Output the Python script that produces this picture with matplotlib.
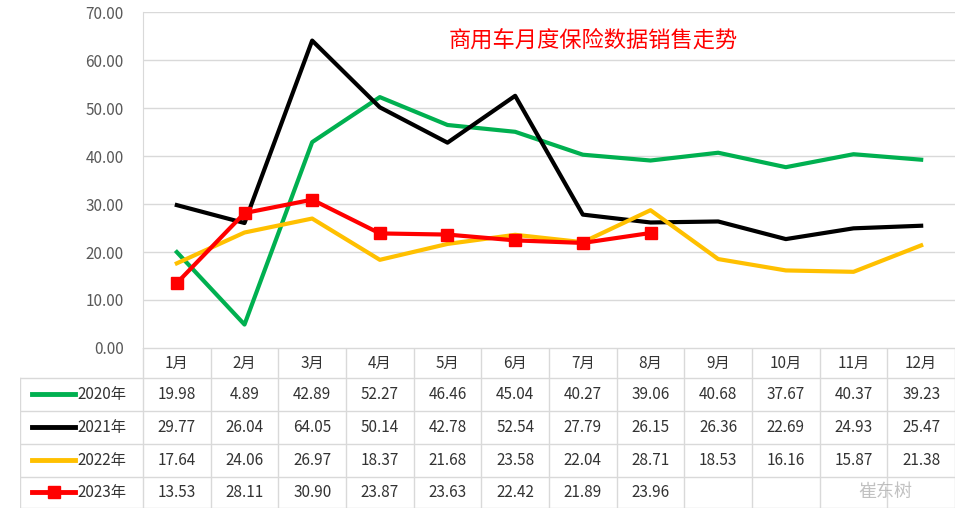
import matplotlib
matplotlib.use("Agg")
import matplotlib.pyplot as plt
from matplotlib.lines import Line2D

plt.rcParams['font.family'] = ['Noto Sans CJK SC', 'DejaVu Sans']

months = ['1月','2月','3月','4月','5月','6月','7月','8月','9月','10月','11月','12月']
y2020 = [19.98,4.89,42.89,52.27,46.46,45.04,40.27,39.06,40.68,37.67,40.37,39.23]
y2021 = [29.77,26.04,64.05,50.14,42.78,52.54,27.79,26.15,26.36,22.69,24.93,25.47]
y2022 = [17.64,24.06,26.97,18.37,21.68,23.58,22.04,28.71,18.53,16.16,15.87,21.38]
y2023 = [13.53,28.11,30.90,23.87,23.63,22.42,21.89,23.96]
labels = ['2020年','2021年','2022年','2023年']
series = [y2020,y2021,y2022,y2023]
colors = ['#00B050','#000000','#FFC000','#FF0000']

W,H = 968,511
fig = plt.figure(figsize=(W/100,H/100), dpi=100)
L,R,T,B = 143,955,12,348
ax = fig.add_axes([L/W, 1-B/H, (R-L)/W, (B-T)/H])
for s,c,lab in zip(series,colors,labels):
    x = [i+0.5 for i in range(len(s))]
    if lab=='2023年':
        ax.plot(x,s,color=c,lw=3,marker='s',ms=9,zorder=5)
    else:
        ax.plot(x,s,color=c,lw=3)
ax.set_xlim(0,12); ax.set_ylim(0,70)
ax.set_yticks(range(0,71,10))
ax.set_yticklabels([f'{v:.2f}' for v in range(0,71,10)], fontsize=11, color='#595959')
ax.set_xticks([])
ax.yaxis.grid(True,color='#d9d9d9',lw=1)
ax.set_axisbelow(True)
for sp in ['top','right','bottom']:
    ax.spines[sp].set_visible(False)
ax.spines['left'].set_color('#d9d9d9')
ax.tick_params(axis='y',length=0,pad=14)
ax.text(0.555,0.915,'商用车月度保险数据销售走势',transform=ax.transAxes,ha='center',va='center',fontsize=16,color='#FF0000')

# table
tb_l, tb_b = 20, 508
tax = fig.add_axes([tb_l/W, 1-tb_b/H, (R-tb_l)/W, (tb_b-B)/H])
x0 = -(L-tb_l)/((R-L)/12)
tax.set_xlim(x0,12); tax.set_ylim(tb_b,B)
tax.axis('off')
rows = [B,378,411,444,477,tb_b]
gc = '#d9d9d9'
for yv in rows:
    tax.plot([x0 if yv!=B else 0,12],[yv,yv],color=gc,lw=1)
for i in range(13):
    tax.plot([i,i],[B,tb_b],color=gc,lw=1)
tax.plot([x0,x0],[rows[1],tb_b],color=gc,lw=1)
for i,m in enumerate(months):
    tax.text(i+0.5,(rows[0]+rows[1])/2,m,ha='center',va='center',fontsize=11,color='#333333')
for r,(s,c,lab) in enumerate(zip(series,colors,labels)):
    yc = (rows[r+1]+rows[r+2])/2
    tax.add_line(Line2D([x0+0.18,x0+0.82],[yc,yc],color=c,lw=3.5))
    if lab=='2023年':
        tax.plot([x0+0.5],[yc],marker='s',color=c,ms=9)
    tax.text(x0+0.85,yc,lab,ha='left',va='center',fontsize=11,color='#333333')
    for i,v in enumerate(s):
        tax.text(i+0.5,yc,f'{v:.2f}',ha='center',va='center',fontsize=11,color='#333333')
fig.text(885/W,1-492/H,'崔东树',ha='center',va='center',fontsize=13,color='#999999',alpha=0.6)
fig.savefig('out.png',dpi=100,facecolor='white')
